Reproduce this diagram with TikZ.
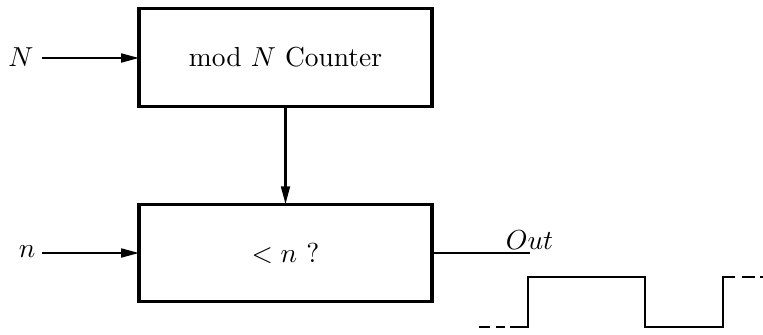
\documentclass[tikz,border=0pt]{standalone}
\usetikzlibrary{arrows.meta}
\begin{document}
\begin{tikzpicture}[x=0.364pt,y=-0.364pt,
  blockbox/.style={draw,line width=1.2pt,minimum width=106.6pt,minimum height=35.5pt,inner sep=0pt,outer sep=0pt},
  sigarrow/.style={line width=0.85pt,-{Triangle[length=6.5pt,width=3.2pt]}},
  wave/.style={line width=1pt}]
\useasboundingbox (0,0) rectangle (763,334);
\node[blockbox] (counter) at (285.5,57.5) {mod $N$ Counter};
\node[blockbox] (cmp) at (285.5,253) {$<n$ ?};
\node (Nin) at (21,57) {$N$};
\node (nin) at (27,252) {$n$};
\coordinate (Nstart) at (42,58);
\coordinate (nstart) at (42,253);
\draw[sigarrow] (Nstart) -- (counter.west |- Nstart);
\draw[sigarrow] (nstart) -- (cmp.west |- nstart);
\draw[sigarrow] (counter.south) -- (cmp.north);
\coordinate (outend) at (530,253);
\draw[line width=0.9pt] (cmp.east) -- (outend);
\node (outlbl) at (529.5,240) {$Out$};
\draw[wave] (510,327) -- (528,327) -- (528,277) -- (645,277) -- (645,327) -- (723,327) -- (723,277) -- (735,277);
\draw[wave] (479,327) -- (490,327);
\draw[wave] (496,327) -- (505,327);
\draw[wave] (742,277) -- (755,277);
\draw[wave] (760,277) -- (763,277);
\end{tikzpicture}
\end{document}
